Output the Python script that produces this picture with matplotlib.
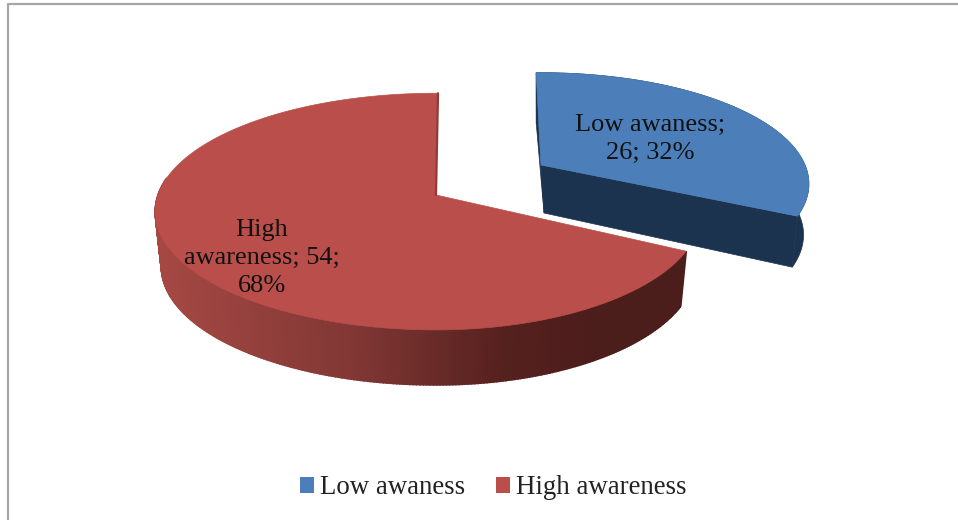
import numpy as np
import matplotlib
matplotlib.use('Agg')
import matplotlib.pyplot as plt
from matplotlib.colors import LinearSegmentedColormap
from matplotlib.patches import Patch, Polygon

plt.rcParams['font.family'] = ['Liberation Serif', 'DejaVu Serif']

categories = ['Low awaness', 'High awareness']
values = [26, 54]
percents = ['32%', '68%']
slice_labels = ['Low awaness;\n26; 32%', 'High\nawareness; 54;\n68%']

BLUE = '#4c7fba'
BLUE_WALL = '#1c3350'
RED = '#ba4e4a'
# wall of the red slice gets darker from left to right
red_wall = LinearSegmentedColormap.from_list(
    'red_wall', [(0.0, '#a54843'), (0.45, '#803734'), (0.78, '#56211f'), (1.0, '#4b1d1b')])


def project(theta, center, rx_left, rx_right, ry, depth, z=0.0, k=0.14, shrink=0.022):
    # fake perspective: the front of the disc is bigger than the back
    px = np.sin(theta)
    py = -np.cos(theta)
    s = 1 / (1 - k * py)
    rx = np.where(px < 0, rx_left, rx_right) * (1 - shrink * z)
    return center[0] + rx * px * s, center[1] + ry * py * s + depth * z


fig = plt.figure(figsize=(9.58, 5.2), dpi=100)
ax = fig.add_axes([0, 0, 1, 1])
ax.set_xlim(0, 958)
ax.set_ylim(520, 0)
ax.axis('off')

# chart frame
ax.plot([8, 8, 958], [520, 4, 4], color='#a6a6a6', lw=1.6)

total = sum(values)
end_angle = 2 * np.pi * values[0] / total

# --- blue slice, pulled out to the upper right ---
blue = dict(center=(541, 165), rx_left=270, rx_right=264, ry=108, depth=51, k=0.17, shrink=0.02)
t = np.linspace(np.radians(-1.2), end_angle - np.radians(1), 120)
xt, yt = project(t, **blue)
xb, yb = project(t, z=1, **blue)
cx, cy = blue['center']
# outer wall and the two cut faces
ax.add_patch(Polygon(np.c_[np.r_[xt, xb[::-1]], np.r_[yt, yb[::-1]]], fc=BLUE_WALL, ec=BLUE_WALL, lw=0.5))
ax.add_patch(Polygon([(xt[-1], yt[-1]), (xb[-1], yb[-1]), (cx + 3, cy + 48), (cx, cy)], fc=BLUE_WALL, ec=BLUE_WALL, lw=0.5))
ax.add_patch(Polygon([(xt[0], yt[0]), (xb[0], yb[0]), (cx + 3, cy + 48), (cx, cy)], fc=BLUE_WALL, ec=BLUE_WALL, lw=0.5))
ax.add_patch(Polygon(np.c_[np.r_[cx, xt], np.r_[cy, yt]], fc=BLUE, ec=BLUE, lw=0.5))

# --- red slice ---
red = dict(center=(436, 195), rx_left=278, rx_right=263, ry=116, depth=55)
t = np.linspace(end_angle, 2 * np.pi + np.radians(0.5), 400)
xt, yt = project(t, **red)
xb, yb = project(t, z=1, **red)
x_min, x_max = 160, 600
for i in range(len(t) - 1):
    if np.cos(t[i]) > 0.15:
        continue  # back part is hidden behind the top
    c = red_wall(np.clip((xt[i] - x_min) / (x_max - x_min), 0, 1))
    ax.add_patch(Polygon([(xt[i], yt[i]), (xt[i + 1], yt[i + 1]), (xb[i + 1], yb[i + 1]), (xb[i], yb[i])],
                         fc=c, ec=c, lw=1.2))
cx, cy = red['center']
ax.plot([xt[-1], cx], [yt[-1], cy], color='#8f3c38', lw=1.6, solid_capstyle='round')
ax.add_patch(Polygon(np.c_[np.r_[cx, xt], np.r_[cy, yt]], fc=RED, ec=RED, lw=0.5))

# data labels
ax.text(650, 139, slice_labels[0], ha='center', va='center', fontsize=19, linespacing=1.3, color='#111111')
ax.text(262, 258, slice_labels[1], ha='center', va='center', fontsize=19, linespacing=1.35, color='#111111')

# legend
handles = [Patch(fc=BLUE, ec='none'), Patch(fc=RED, ec='none')]
ax.legend(handles, categories, loc='center', bbox_to_anchor=(493, 488), bbox_transform=ax.transData,
          ncol=2, frameon=False, fontsize=19.4, handlelength=0.52, handleheight=0.52,
          handletextpad=0.22, columnspacing=1.15, borderpad=0, labelcolor='#222222')

fig.savefig('out.png', dpi=100)
